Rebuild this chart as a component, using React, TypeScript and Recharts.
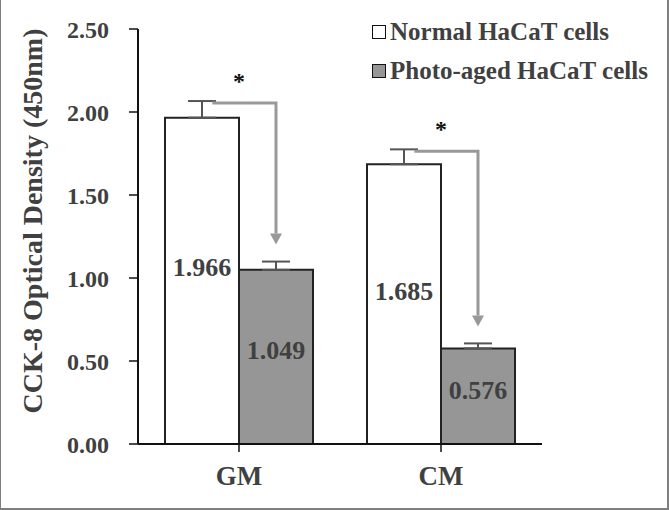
import React from "react";
import { BarChart, Bar, XAxis, YAxis, ErrorBar, LabelList, Legend } from "recharts";

const categories = ["GM", "CM"];
const normalValues = [1.966, 1.685];
const photoValues = [1.049, 0.576];
const normalErrors = [0.1, 0.09];
const photoErrors = [0.05, 0.03];
const yTicks = [0, 0.5, 1, 1.5, 2, 2.5];
const seriesNames = ["Normal HaCaT cells", "Photo-aged HaCaT cells"];
const significance = ["*", "*"];

const data = categories.map((c, i) => ({
  name: c,
  normal: normalValues[i],
  photo: photoValues[i],
  normalErr: [0, normalErrors[i]],
  photoErr: [0, photoErrors[i]],
}));

const FONT = "'Liberation Serif', 'Times New Roman', serif";
const TEXT = "#404040";
const ARROW = "#999999";

const geom = (props: any) => {
  const vb = props.viewBox || {};
  const x = props.x ?? vb.x;
  const y = props.y ?? vb.y;
  const width = props.width ?? vb.width;
  const height = props.height ?? vb.height;
  return { x: Number(x), y: Number(y), width: Number(width), height: Number(height) };
};

const NormalLabel = (props: any) => {
  const { x, y, width, height } = geom(props);
  const idx = props.index;
  const value = normalValues[idx];
  const ppu = height / value;
  const base = y + height;
  const errTopY = base - (value + normalErrors[idx]) * ppu;
  const photoTopY = base - (photoValues[idx] + photoErrors[idx]) * ppu;
  const sx = x + width * 0.64;
  const hy = errTopY + 2;
  const ex = x + width * 1.5;
  const tipY = photoTopY - 17;
  const headH = 11;
  return (
    <g>
      <path
        d={`M${sx},${hy} L${ex},${hy} L${ex},${tipY - headH}`}
        fill="none"
        stroke={ARROW}
        strokeWidth={3}
      />
      <path
        d={`M${ex - 6},${tipY - headH} L${ex + 6},${tipY - headH} L${ex},${tipY} Z`}
        fill={ARROW}
      />
      <text
        x={x + width}
        y={errTopY - 20}
        textAnchor="middle"
        dominantBaseline="central"
        fontFamily={FONT}
        fontWeight="bold"
        fontSize={24}
        fill="#111"
      >
        {significance[idx]}
      </text>
      <text
        x={x + width / 2}
        y={y + height / 2 - 13}
        textAnchor="middle"
        dominantBaseline="central"
        fontFamily={FONT}
        fontWeight="bold"
        fontSize={26}
        fill={TEXT}
      >
        {value.toFixed(3)}
      </text>
    </g>
  );
};

const PhotoLabel = (props: any) => {
  const { x, y, width, height } = geom(props);
  const idx = props.index;
  const value = photoValues[idx];
  return (
    <text
      x={x + width / 2}
      y={y + height / 2 - 6}
      textAnchor="middle"
      dominantBaseline="central"
      fontFamily={FONT}
      fontWeight="bold"
      fontSize={26}
      fill={TEXT}
    >
      {value.toFixed(3)}
    </text>
  );
};

const LegendContent = () => (
  <div style={{ fontFamily: FONT, fontWeight: "bold", fontSize: 25, color: TEXT, lineHeight: "39px" }}>
    {seriesNames.map((n, i) => (
      <div key={n} style={{ display: "flex", alignItems: "center", height: 39, whiteSpace: "nowrap" }}>
        <span
          style={{
            display: "inline-block",
            width: 12,
            height: 12,
            border: "1.5px solid #111",
            background: i === 0 ? "#ffffff" : "#969696",
            marginRight: 4,
          }}
        />
        <span>{n}</span>
      </div>
    ))}
  </div>
);

const YLabel = () => (
  <text
    x={32}
    y={221}
    transform="rotate(-90, 32, 221)"
    textAnchor="middle"
    dominantBaseline="central"
    fontFamily={FONT}
    fontWeight="bold"
    fontSize={28}
    fill={TEXT}
  >
    CCK-8 Optical Density (450nm)
  </text>
);

export default function App() {
  return (
    <div
      style={{
        position: "absolute",
        left: 0,
        top: 0,
        width: 669,
        height: 510,
        background: "#fff",
        boxSizing: "border-box",
        borderLeft: "1px solid #7f7f7f",
        borderRight: "2px solid #7f7f7f",
        borderBottom: "2px solid #7f7f7f",
      }}
    >
      <div style={{ position: "absolute", left: -1, top: 0 }}>
        <BarChart
          width={669}
          height={510}
          data={data}
          margin={{ top: 29, right: 127, bottom: 26, left: 0 }}
          barCategoryGap={27}
          barGap={0}
        >
          <XAxis
            dataKey="name"
            height={40}
            axisLine={{ stroke: "#111", strokeWidth: 2 }}
            tickLine={{ stroke: "#111", strokeWidth: 1.5 }}
            tickSize={8}
            tickMargin={14}
            tick={{ fontFamily: FONT, fontWeight: "bold", fontSize: 27, fill: TEXT }}
          />
          <YAxis
            width={138}
            domain={[0, 2.5]}
            ticks={yTicks}
            interval={0}
            tickFormatter={(v: number) => v.toFixed(2)}
            axisLine={{ stroke: "#111", strokeWidth: 2 }}
            tickLine={{ stroke: "#111", strokeWidth: 1.5 }}
            tickSize={9}
            tickMargin={20}
            tick={{ fontFamily: FONT, fontWeight: "bold", fontSize: 24, fill: TEXT }}
            label={<YLabel />}
          />
          <Legend
            layout="vertical"
            align="center"
            verticalAlign="middle"
            content={<LegendContent />}
            wrapperStyle={{ position: "absolute", left: 372, top: 12, width: 300, height: 78 }}
          />
          <Bar
            dataKey="normal"
            name={seriesNames[0]}
            fill="#ffffff"
            stroke="#222"
            strokeWidth={2}
            isAnimationActive={false}
          >
            <ErrorBar dataKey="normalErr" width={14} stroke="#555" strokeWidth={2} direction="y" />
            <LabelList dataKey="normal" content={<NormalLabel />} />
          </Bar>
          <Bar
            dataKey="photo"
            name={seriesNames[1]}
            fill="#969696"
            stroke="#222"
            strokeWidth={2}
            isAnimationActive={false}
          >
            <ErrorBar dataKey="photoErr" width={14} stroke="#555" strokeWidth={2} direction="y" />
            <LabelList dataKey="photo" content={<PhotoLabel />} />
          </Bar>
        </BarChart>
      </div>
    </div>
  );
}
